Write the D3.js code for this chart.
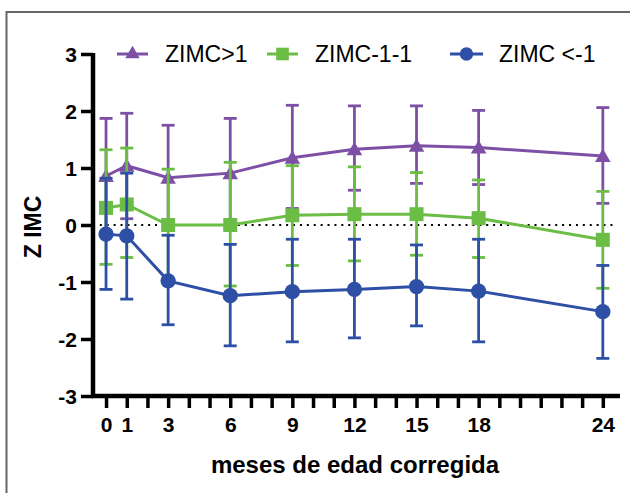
<!DOCTYPE html>
<html><head><meta charset="utf-8">
<script src="https://cdn.jsdelivr.net/npm/d3@7/dist/d3.min.js"></script>
<style>html,body{margin:0;padding:0;background:#fff;}svg{display:block;}</style>
</head><body>
<svg id="chart" width="630" height="493"></svg>
<script>
const months = [0, 1, 3, 6, 9, 12, 15, 18, 24];
const xTickLabels = [0, 1, 3, 6, 9, 12, 15, 18, 24];
const yTickLabels = [-3, -2, -1, 0, 1, 2, 3];
const seriesNames = ["ZIMC>1", "ZIMC-1-1", "ZIMC <-1"];

const highMean = [0.86, 1.04, 0.83, 0.91, 1.18, 1.33, 1.39, 1.36, 1.21];
const highUpper = [1.87, 1.96, 1.75, 1.87, 2.10, 2.09, 2.09, 2.01, 2.06];
const highLower = [-0.15, 0.11, -0.09, -0.05, 0.29, 0.61, 0.73, 0.71, 0.38];

const midMean = [0.30, 0.36, 0.00, 0.00, 0.17, 0.19, 0.19, 0.12, -0.26];
const midUpper = [1.32, 1.35, 0.98, 1.10, 1.04, 1.02, 0.92, 0.79, 0.59];
const midLower = [-0.69, -0.57, -0.98, -1.07, -0.71, -0.63, -0.53, -0.57, -1.11];

const lowMean = [-0.16, -0.19, -0.98, -1.24, -1.17, -1.13, -1.08, -1.16, -1.52];
const lowUpper = [0.82, 0.91, -0.18, -0.34, -0.25, -0.25, -0.35, -0.25, -0.71];
const lowLower = [-1.13, -1.30, -1.75, -2.12, -2.05, -1.98, -1.77, -2.05, -2.34];

const series = [
  {name: seriesNames[0], mean: highMean, hi: highUpper, lo: highLower, color: "#7d50a6", symbol: d3.symbolTriangle, size: 105, lsize: 90},
  {name: seriesNames[1], mean: midMean, hi: midUpper, lo: midLower, color: "#6cbd45", symbol: d3.symbolSquare, size: 196, lsize: 160},
  {name: seriesNames[2], mean: lowMean, hi: lowUpper, lo: lowLower, color: "#2e4fa6", symbol: d3.symbolCircle, size: 185, lsize: 140}
];

const svg = d3.select("#chart");
const font = "'Liberation Sans', Arial, sans-serif";

// frame
svg.append("line").attr("x1", 6).attr("x2", 630).attr("y1", 12).attr("y2", 12)
  .attr("stroke", "#666").attr("stroke-width", 2);
svg.append("line").attr("x1", 6.5).attr("x2", 6.5).attr("y1", 11).attr("y2", 493)
  .attr("stroke", "#666").attr("stroke-width", 2);

const x = d3.scaleLinear().domain([-0.63, 24.83]).range([93, 620]);
const y = d3.scaleLinear().domain([-3, 3]).range([396, 54]);

// zero dotted line
svg.append("line").attr("x1", x(-0.3)).attr("x2", x(24.5)).attr("y1", y(0)).attr("y2", y(0))
  .attr("stroke", "#000").attr("stroke-width", 2.2).attr("stroke-dasharray", "2,4.9");

// y axis
const yAxis = d3.axisLeft(y).tickValues(yTickLabels).tickSize(12).tickPadding(4).tickFormat(d => String(d));
const gy = svg.append("g").attr("transform", `translate(${x.range()[0]},0)`).call(yAxis);
gy.select(".domain").attr("stroke", "#000").attr("stroke-width", 4.5).attr("d", `M0,${y(3)-1}V${y(-3)+2}`);
gy.selectAll(".tick line").attr("stroke", "#000").attr("stroke-width", 3.5);
gy.selectAll(".tick text").attr("font-family", font).attr("font-weight", "bold").attr("font-size", 21)
  .attr("fill", "#000").attr("dy", "0.36em").attr("x", -16);

// x axis
const allMonths = d3.range(0, 25);
const xAxis = d3.axisBottom(x).tickValues(allMonths).tickSize(12).tickPadding(8)
  .tickFormat(d => xTickLabels.includes(d) ? String(d) : "");
const gx = svg.append("g").attr("transform", `translate(0,${y(-3)})`).call(xAxis);
gx.select(".domain").attr("stroke", "#000").attr("stroke-width", 4.5).attr("d", `M${x.range()[0]-2},0H${x.range()[1]}`);
gx.selectAll(".tick line").attr("stroke", "#000").attr("stroke-width", 3.5);
gx.selectAll(".tick text").attr("font-family", font).attr("font-weight", "bold").attr("font-size", 21)
  .attr("fill", "#000").attr("y", 21).attr("dy", "0.71em");

// axis titles
svg.append("text").attr("x", 355).attr("y", 473).attr("text-anchor", "middle")
  .attr("font-family", font).attr("font-weight", "bold").attr("font-size", 24).attr("fill", "#000")
  .text("meses de edad corregida");
svg.append("text").attr("transform", `translate(41,227) rotate(-90)`).attr("text-anchor", "middle")
  .attr("font-family", font).attr("font-weight", "bold").attr("font-size", 23).attr("fill", "#000")
  .text("Z IMC");

// series
const line = d3.line().x(d => x(d.m)).y(d => y(d.v));
series.forEach(s => {
  const g = svg.append("g");
  const pts = months.map((m, i) => ({m, v: s.mean[i], hi: s.hi[i], lo: s.lo[i]}));
  pts.forEach(p => {
    g.append("line").attr("x1", x(p.m)).attr("x2", x(p.m)).attr("y1", y(p.hi)).attr("y2", y(p.lo))
      .attr("stroke", s.color).attr("stroke-width", 2.8);
    [p.hi, p.lo].forEach(v => {
      g.append("line").attr("x1", x(p.m) - 6.5).attr("x2", x(p.m) + 6.5).attr("y1", y(v)).attr("y2", y(v))
        .attr("stroke", s.color).attr("stroke-width", 2.8);
    });
  });
  g.append("path").datum(pts).attr("d", line).attr("fill", "none").attr("stroke", s.color).attr("stroke-width", 3);
  g.selectAll("path.sym").data(pts).enter().append("path").attr("class", "sym")
    .attr("transform", d => `translate(${x(d.m)},${y(d.v) + (s.symbol === d3.symbolTriangle ? 1.5 : 0)})`)
    .attr("d", d3.symbol().type(s.symbol).size(s.size)).attr("fill", s.color);
});

// legend
const legendItems = [
  {x0: 117, x1: 148, tx: 165},
  {x0: 267, x1: 298, tx: 315},
  {x0: 450, x1: 483, tx: 499}
];
series.forEach((s, i) => {
  const L = legendItems[i];
  const cy = 54;
  svg.append("line").attr("x1", L.x0).attr("x2", L.x1).attr("y1", cy).attr("y2", cy)
    .attr("stroke", s.color).attr("stroke-width", 3);
  svg.append("path").attr("transform", `translate(${(L.x0 + L.x1) / 2},${cy})`)
    .attr("d", d3.symbol().type(s.symbol).size(s.lsize)).attr("fill", s.color);
  svg.append("text").attr("x", L.tx).attr("y", 62).attr("font-family", font).attr("font-size", 23)
    .attr("fill", "#000").text(s.name);
});
</script>
</body></html>
